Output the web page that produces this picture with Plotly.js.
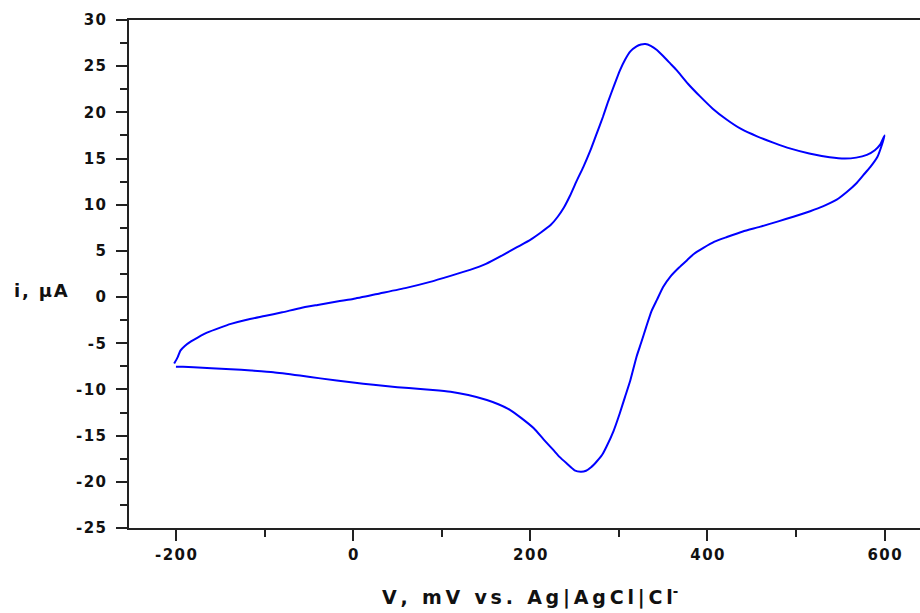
<!DOCTYPE html>
<html>
<head>
<meta charset="utf-8">
<script src="https://cdn.plot.ly/plotly-3.0.1.min.js"></script>
<style>html,body{margin:0;padding:0;background:#fff;}#chart{width:920px;height:613px;}</style>
</head>
<body>
<div id="chart"></div>
<script>
// Forward (anodic) scan, -200 -> 600 mV
const forwardV = [-202, -198, -195, -190, -183, -175, -165, -150, -138, -120, -100, -80, -60, -40, -15, 0, 30, 60, 87, 110, 132, 150, 170, 185, 200, 212, 223, 231, 238, 245, 252, 260, 268, 275, 282, 288, 295, 301, 307, 313, 320, 325, 330, 336, 343, 350, 358, 365, 378, 392, 406, 422, 438, 456, 475, 493, 515, 538, 555, 568, 580, 589, 595, 600];
const forwardI = [-7.2, -6.5, -5.8, -5.3, -4.8, -4.35, -3.85, -3.3, -2.9, -2.45, -2.05, -1.65, -1.2, -0.85, -0.42, -0.2, 0.4, 1.0, 1.65, 2.3, 2.95, 3.6, 4.6, 5.4, 6.2, 7.0, 7.8, 8.7, 9.7, 11.0, 12.5, 14.1, 15.9, 17.7, 19.5, 21.2, 23.0, 24.5, 25.7, 26.6, 27.15, 27.35, 27.4, 27.2, 26.75, 26.1, 25.3, 24.6, 23.1, 21.7, 20.4, 19.2, 18.2, 17.4, 16.7, 16.1, 15.55, 15.15, 15.0, 15.1, 15.4, 15.9, 16.5, 17.5];
// Reverse (cathodic) scan, 600 -> -200 mV
const reverseV = [597, 592, 584, 576, 568, 557, 546, 531, 516, 497, 480, 459, 440, 422, 408, 395, 385, 377, 368, 358, 350, 343, 337, 331, 325, 320, 313, 307, 301, 294, 286, 281, 275, 269, 263, 257, 250, 241, 233, 226, 215, 204, 190, 177, 164, 151, 130, 110, 90, 76, 50, 23, 0, -37, -60, -90, -115, -138, -160, -180, -192, -200];
const reverseI = [16.5, 15.2, 14.1, 13.2, 12.3, 11.35, 10.55, 9.85, 9.3, 8.7, 8.2, 7.6, 7.1, 6.5, 6.0, 5.3, 4.7, 4.0, 3.2, 2.2, 1.1, -0.3, -1.5, -3.2, -5.0, -6.45, -9.0, -10.8, -12.6, -14.5, -16.2, -17.1, -17.8, -18.4, -18.8, -18.9, -18.75, -18.0, -17.3, -16.55, -15.4, -14.2, -13.1, -12.2, -11.6, -11.14, -10.6, -10.24, -10.05, -9.95, -9.75, -9.5, -9.25, -8.8, -8.5, -8.14, -7.95, -7.8, -7.7, -7.6, -7.55, -7.53];

const xTickVals = [-200, 0, 200, 400, 600];
const xTickText = ["-200", "0", "200", "400", "600"];
const yTickVals = [30, 25, 20, 15, 10, 5, 0, -5, -10, -15, -20, -25];
const yTickText = ["30", "25", "20", "15", "10", "5", "0", "-5", "-10", "-15", "-20", "-25"];
const xTitleMain = "V, mV vs. Ag|AgCl|Cl";
const xTitleSup = "-";
const yTitle = "i, \u03bcA";

const sp = s => s.split("").join("\u200a");
const sp2 = s => s.split("").join("\u2009");

const fam = "DejaVu Sans, Liberation Sans, Arial";
const tickFont = {family: fam, size: 15, color: "#111", weight: 700};
const titleFont = {family: fam, size: 19, color: "#111", weight: 700};

const trace = {
  x: forwardV.concat(reverseV),
  y: forwardI.concat(reverseI),
  type: "scatter",
  mode: "lines",
  line: {color: "#0000ff", width: 2, shape: "spline", smoothing: 0.5},
  hoverinfo: "skip"
};

const layout = {
  width: 920, height: 613,
  margin: {l: 129, r: 0, t: 20, b: 85},
  paper_bgcolor: "#fff", plot_bgcolor: "#fff",
  showlegend: false,
  xaxis: {
    range: [-253, 640], showgrid: false, zeroline: false,
    showline: true, linecolor: "#222", linewidth: 2, mirror: true,
    ticks: "outside", ticklen: 11, tickwidth: 2, tickcolor: "#222",
    tickvals: xTickVals, ticktext: xTickText.map(sp), tickfont: tickFont,
    ticklabelstandoff: 1,
    minor: {dtick: 100, tick0: 0, ticks: "outside", ticklen: 7, tickwidth: 2, tickcolor: "#222", showgrid: false}
  },
  yaxis: {
    range: [-25, 30], showgrid: false, zeroline: false,
    showline: true, linecolor: "#222", linewidth: 2,
    ticks: "outside", ticklen: 11, tickwidth: 2, tickcolor: "#222",
    tickvals: yTickVals, ticktext: yTickText.map(sp), tickfont: tickFont,
    ticklabelstandoff: 7,
    minor: {dtick: 2.5, tick0: 0, ticks: "outside", ticklen: 7, tickwidth: 2, tickcolor: "#222", showgrid: false}
  },
  annotations: [
    {text: sp(yTitle), xref: "paper", yref: "paper", x: -0.1113, y: 0.4685, xanchor: "center", yanchor: "middle", showarrow: false, font: {family: fam, size: 18, color: "#111", weight: 700}},
    {text: sp2(xTitleMain) + "<sup>" + xTitleSup + "</sup>", xref: "paper", yref: "paper", x: 0.507, y: -0.1358, xanchor: "center", yanchor: "middle", showarrow: false, font: titleFont}
  ]
};

Plotly.newPlot("chart", [trace], layout, {staticPlot: true, displayModeBar: false});
</script>
</body>
</html>
